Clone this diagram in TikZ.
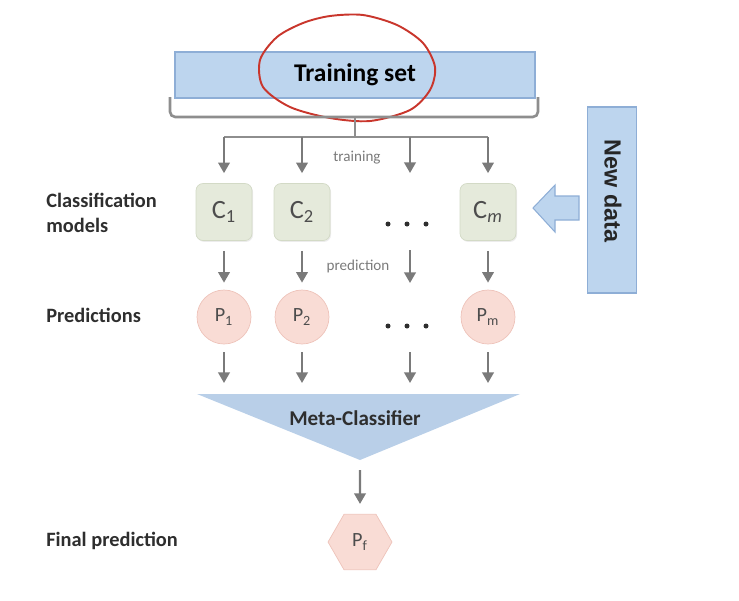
\documentclass[tikz,border=0pt]{standalone}
\usepackage{fontspec}
\setmainfont{Carlito}
\newfontfamily\arialfont{Liberation Sans}
\usetikzlibrary{arrows.meta,shapes.geometric,shadows}
\definecolor{setblue}{HTML}{BDD5EE}
\definecolor{setedge}{HTML}{8EAED6}
\definecolor{modelfill}{HTML}{E5EADB}
\definecolor{modeledge}{HTML}{D3DAC6}
\definecolor{predfill}{HTML}{F9DCD5}
\definecolor{prededge}{HTML}{EEC3BA}
\definecolor{metablue}{HTML}{B9CFE8}
\definecolor{linegray}{HTML}{7A7A7A}
\definecolor{inkred}{HTML}{C9362C}
\definecolor{textdark}{HTML}{2E2E2E}
\tikzset{
    setbox/.style={draw=setedge, fill=setblue, line width=0.8pt, minimum width=7.2cm, minimum height=0.92cm},
    model/.style={draw=modeledge, fill=modelfill, rounded corners=4pt, minimum width=1.12cm, minimum height=1.14cm, drop shadow={opacity=0.15, shadow xshift=0.6pt, shadow yshift=-0.8pt}, font=\fontsize{15}{18}\selectfont, text=textdark!85},
    pred/.style={circle, draw=prededge, fill=predfill, minimum size=1.08cm, inner sep=0pt, font=\fontsize{11.5}{14}\selectfont, text=textdark!85},
    final/.style={regular polygon, regular polygon sides=6, draw=prededge, fill=predfill, minimum size=1.28cm, inner sep=0pt, font=\fontsize{11.5}{14}\selectfont, text=textdark!85},
    rowlabel/.style={anchor=west, align=left, inner sep=0pt, font=\bfseries\fontsize{11.6}{14.2}\selectfont, text=textdark},
    steplabel/.style={font=\fontsize{8.6}{10}\selectfont, text=linegray},
    feed/.style={->, draw=linegray, line width=1.3pt},
    bracket/.style={draw=linegray!85, line width=1.5pt},
}
\begin{document}
\begin{tikzpicture}[x=0.02cm, y=-0.02cm, >={Triangle[length=6pt, width=6.5pt]}]
    \useasboundingbox (0, 0) rectangle (739, 600);

    \node[setbox] (train) at (355, 75) {\bfseries\fontsize{14.5}{17}\selectfont Training set};
    \draw[inkred, line width=1.1pt] plot[smooth cycle] coordinates {(303, 23) (330, 16) (363, 15) (397, 25) (423, 43) (435, 67) (430, 90) (410, 110) (370, 121) (330, 118) (290, 107) (263, 87) (260, 60) (277, 37)};

    \coordinate (bl) at (170, 97);
    \coordinate (br) at (538, 97);
    \coordinate (split) at (355, 137);
    \draw[bracket, rounded corners=3pt] (bl) -- ++(0, 20) -| (br);
    \draw[bracket] (split) -- ++(0, -20);

    \node[model] (c1) at (224, 212) {C\textsubscript{1}};
    \node[model] (c2) at (302, 212) {C\textsubscript{2}};
    \node[model] (cm) at (488, 212) {C\textsubscript{\itshape m}};
    \foreach \x in {388, 407, 426}
        \fill[textdark] (\x, 224) circle (0.05cm);

    \node[pred] (p1) at (224, 317) {P\textsubscript{1}};
    \node[pred] (p2) at (302, 317) {P\textsubscript{2}};
    \node[pred] (pm) at (488, 317) {P\textsubscript{m}};
    \foreach \x in {388, 407, 426}
        \fill[textdark] (\x, 326) circle (0.05cm);

    \coordinate (mtl) at (197, 394);
    \coordinate (mtr) at (520, 394);
    \coordinate (mtip) at (360, 460);
    \fill[metablue] (mtl) -- (mtr) -- (mtip) -- cycle;
    \node[font=\bfseries\fontsize{12}{14}\selectfont, text=textdark] (meta) at (355, 418) {Meta-Classifier};

    \node[final] (pf) at (360, 542) {P\textsubscript{f}};

    \draw[bracket] (split -| c1) -- (split -| cm);
    \foreach \c in {c1, c2, cm} {
        \draw[feed, shorten >=0.2cm] (split -| \c) -- (\c);
    };
    \foreach \c/\p in {c1/p1, c2/p2, cm/pm} {
        \draw[feed, shorten <=0.2cm, shorten >=0.14cm] (\c) -- (\p);
        \draw[feed, shorten <=0.16cm, shorten >=0.22cm] (\p) -- (\p |- mtl);
    };
    \coordinate (d0) at (410, 137);
    \coordinate (d1) at (410, 183);
    \coordinate (d2) at (410, 240);
    \coordinate (d3) at (410, 290);
    \coordinate (d4) at (410, 344);
    \draw[feed, shorten >=0.2cm] (d0) -- (d1);
    \draw[feed, shorten <=0.2cm, shorten >=0.14cm] (d2) -- (d3);
    \draw[feed, shorten <=0.16cm, shorten >=0.22cm] (d4) -- (d4 |- mtl);
    \draw[feed, shorten <=0.2cm, shorten >=0.2cm] (mtip) -- (pf);

    \node[steplabel] (ltrain) at (357, 158) {training};
    \node[steplabel] (lpred) at (358, 266) {prediction};

    \node[draw=setedge, fill=setblue, line width=0.8pt, minimum width=0.98cm, minimum height=3.72cm] (newdata) at (612, 200) {};
    \node[rotate=-90, font=\arialfont\bfseries\fontsize{13.3}{16}\selectfont, text=black!85] (ldata) at (613, 191) {New data};
    \fill[setblue, draw=setedge, line width=0.6pt] (533, 208) -- (555, 185) -- (555, 196) -- (579, 196) -- (579, 220) -- (555, 220) -- (555, 232) -- cycle;

    \node[rowlabel] (lmodels) at (46, 213) {Classification\\models};
    \node[rowlabel] (lpreds) at (46, 315) {Predictions};
    \node[rowlabel] (lfinal) at (46, 541) {Final prediction};
\end{tikzpicture}
\end{document}
